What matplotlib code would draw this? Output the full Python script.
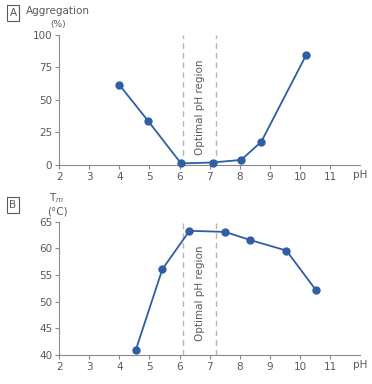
import matplotlib.pyplot as plt

# panel A: aggregation vs pH
ph_a = [4.0, 4.95, 6.05, 7.1, 8.05, 8.72, 10.2]
aggregation = [61.5, 34, 1.3, 2.0, 4.0, 18, 84]

# panel B: melting temperature vs pH
ph_b = [4.55, 5.43, 6.33, 7.52, 8.33, 9.55, 10.53]
tm = [41.0, 56.1, 63.3, 63.1, 61.6, 59.6, 52.2]

optimal = [6.1, 7.2]
xticks = list(range(2, 12))

blue = "#2f5ea3"
grey = "#5a5a5a"
spine = "#8a8a8a"

plt.rcParams['font.family'] = ['DejaVu Sans']

fig = plt.figure(figsize=(3.72, 3.84), dpi=100)
ax_a = fig.add_axes([0.159, 0.570, 0.809, 0.340])
ax_b = fig.add_axes([0.159, 0.0755, 0.809, 0.347])


def style(ax, ylim, yticks):
    ax.set_xlim(2, 12)
    ax.set_ylim(*ylim)
    ax.set_xticks(xticks)
    ax.set_yticks(yticks)
    for s in ["top", "right"]:
        ax.spines[s].set_visible(False)
    for s in ["left", "bottom"]:
        ax.spines[s].set_color(spine)
        ax.spines[s].set_linewidth(0.8)
    ax.tick_params(colors=spine, labelcolor=grey, labelsize=7.5, length=3, width=0.8, pad=2)
    ax.text(12, ylim[0] - (ylim[1] - ylim[0]) * 0.035, "pH", ha="center", va="top",
            fontsize=7.5, color=grey)
    for x in optimal:
        ax.axvline(x, color="#b5b5b5", lw=1, ls=(0, (4, 3)))


style(ax_a, (0, 100), [0, 25, 50, 75, 100])
ax_a.plot(ph_a, aggregation, color=blue, lw=1.3, marker="o", ms=5, mfc=blue, mec=blue,
          clip_on=False, zorder=3)
ax_a.text(6.68, 44, "Optimal pH region", rotation=90, ha="center", va="center",
          fontsize=7.5, color=grey)

style(ax_b, (40, 65), [40, 45, 50, 55, 60, 65])
ax_b.plot(ph_b, tm, color=blue, lw=1.3, marker="o", ms=5, mfc=blue, mec=blue,
          clip_on=False, zorder=3)
ax_b.text(6.68, 51.6, "Optimal pH region", rotation=90, ha="center", va="center",
          fontsize=7.5, color=grey)

# panel letters and axis titles
box = dict(boxstyle="square,pad=0.25", fc="white", ec=grey, lw=0.8)
fig.text(13 / 372, 1 - 13 / 384, "A", ha="center", va="center", fontsize=7.5, color=grey, bbox=box)
fig.text(13 / 372, 1 - 205 / 384, "B", ha="center", va="center", fontsize=7.5, color=grey, bbox=box)
fig.text(58 / 372, 1 - 11 / 384, "Aggregation", ha="center", va="center", fontsize=7.5, color=grey)
fig.text(58 / 372, 1 - 25 / 384, "(%)", ha="center", va="center", fontsize=6.5, color=grey)
fig.text(57 / 372, 1 - 198 / 384, "T$_m$", ha="center", va="center", fontsize=7.5, color=grey)
fig.text(57 / 372, 1 - 211 / 384, "(°C)", ha="center", va="center", fontsize=7.5, color=grey)

fig.savefig("out.png", dpi=100)
